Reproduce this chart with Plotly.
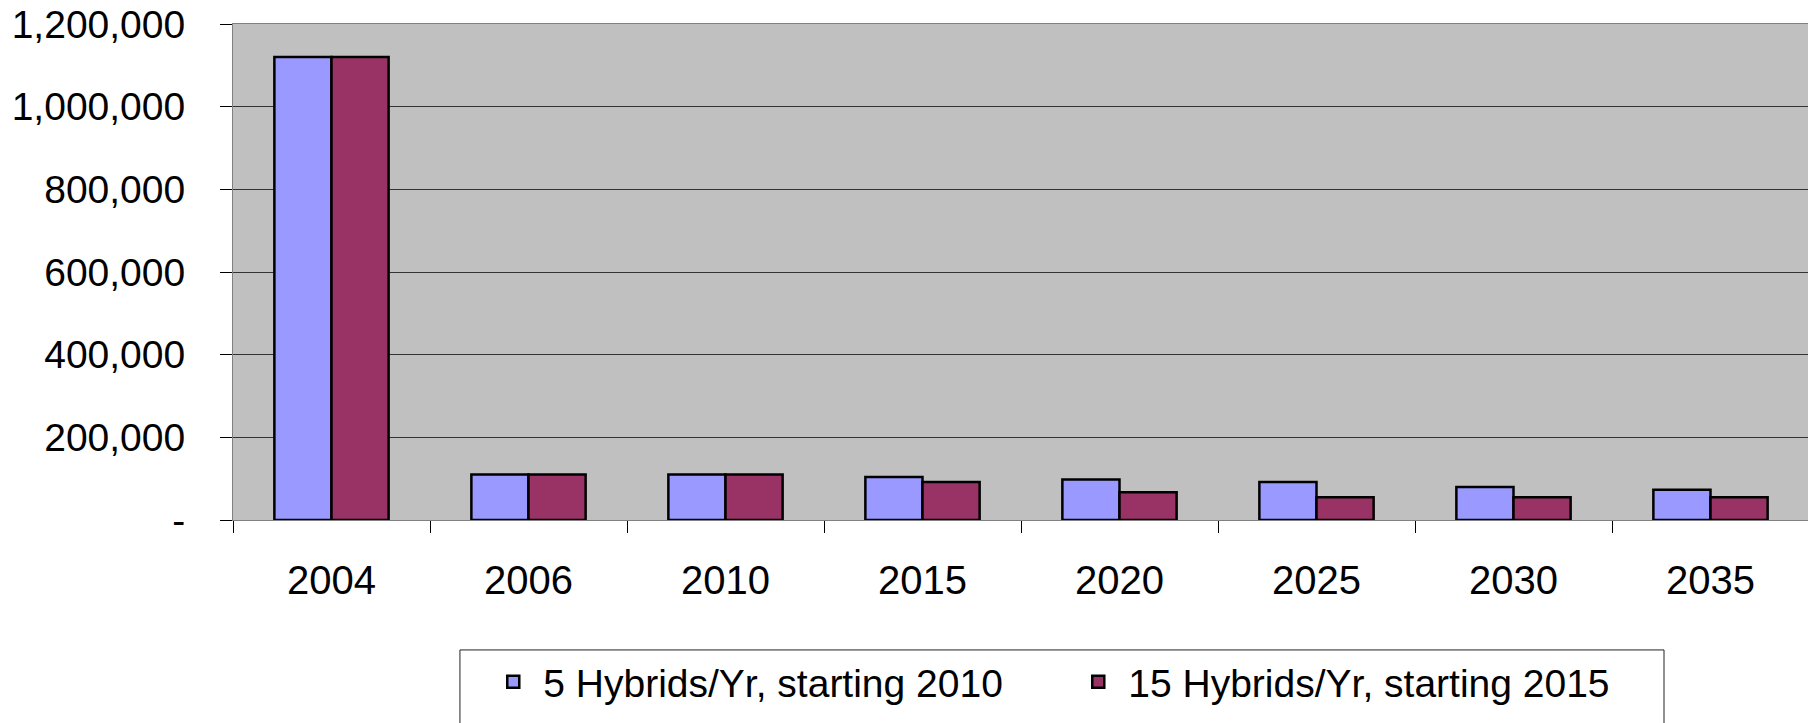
import plotly.graph_objects as go

years = ["2004", "2006", "2010", "2015", "2020", "2025", "2030", "2035"]
series_a_name = "5 Hybrids/Yr, starting 2010"
series_b_name = "15 Hybrids/Yr, starting 2015"
series_a = [1120000, 110000, 110000, 104000, 98000, 92000, 80000, 73000]
series_b = [1120000, 110000, 110000, 92000, 67000, 55000, 55000, 55000]
ytick_vals = [0, 200000, 400000, 600000, 800000, 1000000, 1200000]
ytick_text = ["-", "200,000", "400,000", "600,000", "800,000", "1,000,000", "1,200,000"]

FONT = "Liberation Sans, Arial, sans-serif"

fig = go.Figure()
fig.add_trace(go.Bar(x=years, y=series_a, name=series_a_name,
                     marker=dict(color="#9999FF", line=dict(color="black", width=2.5))))
fig.add_trace(go.Bar(x=years, y=series_b, name=series_b_name,
                     marker=dict(color="#993366", line=dict(color="black", width=2.5))))

# legend frame drawn as a paper-referenced rectangle (wider than plotly's own box)
fig.add_shape(type="rect", xref="paper", yref="paper",
              x0=0.144, x1=0.908, y0=-0.262, y1=-0.45,
              line=dict(color="#222222", width=1), fillcolor="rgba(0,0,0,0)", layer="above")

fig.update_layout(
    width=1808, height=715,
    margin=dict(l=225, r=7, t=16, b=203),
    paper_bgcolor="white",
    plot_bgcolor="#C0C0C0",
    barmode="group",
    bargap=0.42,
    bargroupgap=0,
    font=dict(family=FONT, size=39, color="black"),
    showlegend=True,
    legend=dict(
        orientation="h",
        x=0.530, xanchor="center",
        y=-0.262, yanchor="top",
        borderwidth=0,
        bgcolor="rgba(0,0,0,0)",
        font=dict(family=FONT, size=39),
        entrywidth=520, entrywidthmode="pixels",
        itemwidth=50,
    ),
    xaxis=dict(
        type="category",
        automargin=False,
        showgrid=False,
        showline=True, linecolor="#808080", linewidth=1, mirror=True,
        ticks="outside", tickson="boundaries", ticklen=12, tickcolor="black",
        tickfont=dict(size=40),
        ticklabelstandoff=25,
    ),
    yaxis=dict(
        range=[0, 1200000],
        automargin=False,
        tickvals=ytick_vals, ticktext=ytick_text,
        showgrid=True, gridcolor="#333333", gridwidth=1,
        showline=True, linecolor="#808080", linewidth=1, mirror=True,
        ticks="outside", ticklen=12, tickcolor="black",
        tickfont=dict(size=39),
        ticklabelstandoff=27,
        ticklabeloverflow="allow",
        zeroline=False,
    ),
)

fig.write_html("out.html")
